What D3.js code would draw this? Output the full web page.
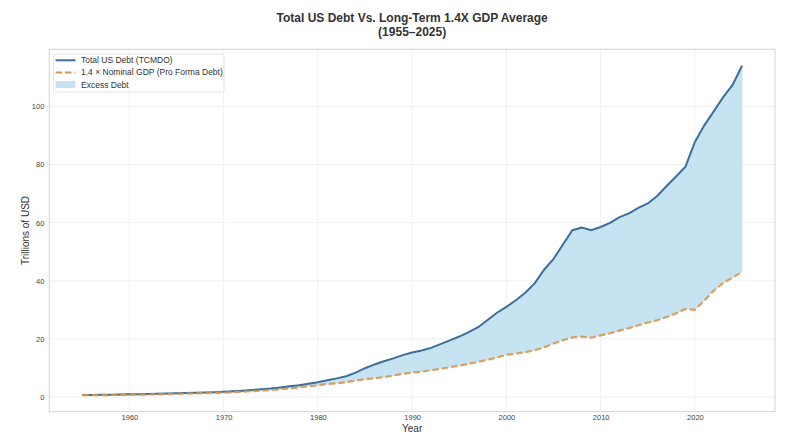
<!DOCTYPE html>
<html>
<head>
<meta charset="utf-8">
<script src="https://cdn.jsdelivr.net/npm/d3@7"></script>
<style>
    body { margin: 0; background: #fff; }
    text { font-family: "Liberation Sans", Arial, sans-serif; }
</style>
</head>
<body>
<div id="chart"></div>
<script>
// years 1955..2025, values in trillions of USD
const years = d3.range(1955, 2026);

const totalDebt = [
    0.65, 0.70, 0.74, 0.78, 0.85, 0.90, 0.95, 1.02, 1.09, 1.17,
    1.26, 1.34, 1.43, 1.55, 1.66, 1.78, 1.96, 2.18, 2.42, 2.65,
    2.90, 3.25, 3.65, 4.05, 4.55, 5.10, 5.75, 6.40, 7.15, 8.40,
    9.90, 11.2, 12.3, 13.3, 14.4, 15.3, 16.0, 16.9, 18.2, 19.5,
    20.8, 22.3, 24.0, 26.5, 29.0, 31.0, 33.3, 35.9, 39.1, 43.8,
    47.5, 52.5, 57.4, 58.3, 57.4, 58.5, 59.9, 61.9, 63.2, 65.1,
    66.6, 69.2, 72.6, 75.9, 79.3, 87.8, 93.5, 98.3, 103.2, 107.4,
    114.0
];

const gdpTimes14 = [
    0.60, 0.63, 0.66, 0.67, 0.73, 0.76, 0.79, 0.84, 0.89, 0.96,
    1.04, 1.14, 1.21, 1.32, 1.43, 1.50, 1.63, 1.79, 2.00, 2.17,
    2.36, 2.62, 2.92, 3.29, 3.67, 4.00, 4.47, 4.70, 5.10, 5.65,
    6.10, 6.45, 6.85, 7.40, 7.95, 8.40, 8.70, 9.20, 9.70, 10.25,
    10.80, 11.40, 12.10, 12.80, 13.60, 14.50, 14.95, 15.40, 16.10, 17.10,
    18.40, 19.50, 20.50, 20.80, 20.40, 21.20, 21.95, 22.85, 23.70, 24.70,
    25.65, 26.40, 27.50, 28.80, 30.30, 30.00, 33.20, 36.60, 39.20, 41.10,
    43.00
];

const xTicks = [1960, 1970, 1980, 1990, 2000, 2010, 2020];
const yTicks = [0, 20, 40, 60, 80, 100];

const legendItems = [
    {label: "Total US Debt (TCMDO)", kind: "line"},
    {label: "1.4 \u00d7 Nominal GDP (Pro Forma Debt)", kind: "dash"},
    {label: "Excess Debt", kind: "area"}
];

const width = 800, height = 442;
const margin = {top: 49.3, right: 25, bottom: 30.3, left: 49.3};

const rows = years.map((y, i) => ({year: y, debt: totalDebt[i], gdp: gdpTimes14[i]}));

const svg = d3.select("#chart").append("svg")
    .attr("width", width)
    .attr("height", height);

// matplotlib-style 5% padding on both axes
const xPad = (2025 - 1955) * 0.05;
const x = d3.scaleLinear()
    .domain([1955 - xPad, 2025 + xPad])
    .range([margin.left, width - margin.right]);

const yMin = d3.min(gdpTimes14), yMax = d3.max(totalDebt);
const yPad = (yMax - yMin) * 0.05;
const y = d3.scaleLinear()
    .domain([yMin - yPad, yMax + yPad])
    .range([height - margin.bottom, margin.top]);

// grid
svg.append("g")
    .selectAll("line.vgrid")
    .data(xTicks)
    .join("line")
    .attr("x1", d => x(d)).attr("x2", d => x(d))
    .attr("y1", margin.top).attr("y2", height - margin.bottom)
    .attr("stroke", "#ececec").attr("stroke-width", 0.8);

svg.append("g")
    .selectAll("line.hgrid")
    .data(yTicks)
    .join("line")
    .attr("x1", margin.left).attr("x2", width - margin.right)
    .attr("y1", d => y(d)).attr("y2", d => y(d))
    .attr("stroke", "#ececec").attr("stroke-width", 0.8);

// excess debt fill
let area = d3.area()
    .x(d => x(d.year))
    .y0(d => y(d.gdp))
    .y1(d => y(d.debt));

svg.append("path")
    .datum(rows)
    .attr("d", area)
    .attr("fill", "#c6e3f2")
    .attr("stroke", "#c6e3f2")
    .attr("stroke-width", 0.8);

// lines
svg.append("path")
    .datum(rows)
    .attr("d", d3.line().x(d => x(d.year)).y(d => y(d.debt)))
    .attr("fill", "none")
    .attr("stroke", "#3d6f99")
    .attr("stroke-width", 2);

svg.append("path")
    .datum(rows)
    .attr("d", d3.line().x(d => x(d.year)).y(d => y(d.gdp)))
    .attr("fill", "none")
    .attr("stroke", "#d9964f")
    .attr("stroke-width", 2.2)
    .attr("stroke-dasharray", "6.5,3")
    .attr("opacity", 0.9);

// frame
svg.append("rect")
    .attr("x", margin.left).attr("y", margin.top)
    .attr("width", width - margin.left - margin.right)
    .attr("height", height - margin.top - margin.bottom)
    .attr("fill", "none")
    .attr("stroke", "#d4d4d4")
    .attr("stroke-width", 1);

// axes
let xAxis = svg.append("g")
    .attr("transform", `translate(0,${height - margin.bottom})`)
    .call(d3.axisBottom(x).tickValues(xTicks).tickFormat(d3.format("d")).tickSize(0).tickPadding(2.5));

let yAxis = svg.append("g")
    .attr("transform", `translate(${margin.left},0)`)
    .call(d3.axisLeft(y).tickValues(yTicks).tickSize(0).tickPadding(5));

[xAxis, yAxis].forEach(a => {
    a.select(".domain").remove();
    a.selectAll("text")
        .style("font-family", "'Liberation Sans', Arial, sans-serif")
        .style("font-size", "7.5px")
        .attr("fill", "#444");
});

// axis labels
svg.append("text")
    .attr("x", (margin.left + width - margin.right) / 2)
    .attr("y", 431.7)
    .attr("text-anchor", "middle")
    .style("font-size", "10px")
    .attr("fill", "#333")
    .text("Year");

svg.append("text")
    .attr("transform", `translate(29,${(margin.top + height - margin.bottom) / 2}) rotate(-90)`)
    .attr("text-anchor", "middle")
    .style("font-size", "10px")
    .attr("fill", "#333")
    .text("Trillions of USD");

// title
const cx = (margin.left + width - margin.right) / 2;
svg.append("text")
    .attr("x", cx).attr("y", 21.5)
    .attr("text-anchor", "middle")
    .style("font-size", "12px").style("font-weight", "bold")
    .attr("fill", "#333")
    .text("Total US Debt Vs. Long-Term 1.4X GDP Average");

svg.append("text")
    .attr("x", cx).attr("y", 35.5)
    .attr("text-anchor", "middle")
    .style("font-size", "12px").style("font-weight", "bold")
    .attr("fill", "#333")
    .text("(1955\u20132025)");

// legend
let legend = svg.append("g").attr("transform", "translate(53.5,54)");
legend.append("rect")
    .attr("width", 170.5).attr("height", 38)
    .attr("rx", 2)
    .attr("fill", "#fff").attr("fill-opacity", 0.85)
    .attr("stroke", "#dcdcdc").attr("stroke-width", 0.8);

legendItems.forEach((item, i) => {
    let yy = 6.3 + i * 12.1;
    if (item.kind === "area") {
        legend.append("rect")
            .attr("x", 2).attr("y", yy - 3.5)
            .attr("width", 20).attr("height", 7)
            .attr("fill", "#c6e3f2");
    } else {
        legend.append("line")
            .attr("x1", 2).attr("x2", 22)
            .attr("y1", yy).attr("y2", yy)
            .attr("stroke", item.kind === "line" ? "#3d6f99" : "#d9964f")
            .attr("stroke-width", 2)
            .attr("stroke-dasharray", item.kind === "dash" ? "6.5,3" : null);
    }
    legend.append("text")
        .attr("x", 27.5).attr("y", yy + 3)
        .style("font-size", "8.5px")
        .attr("fill", "#333")
        .text(item.label);
});
</script>
</body>
</html>
